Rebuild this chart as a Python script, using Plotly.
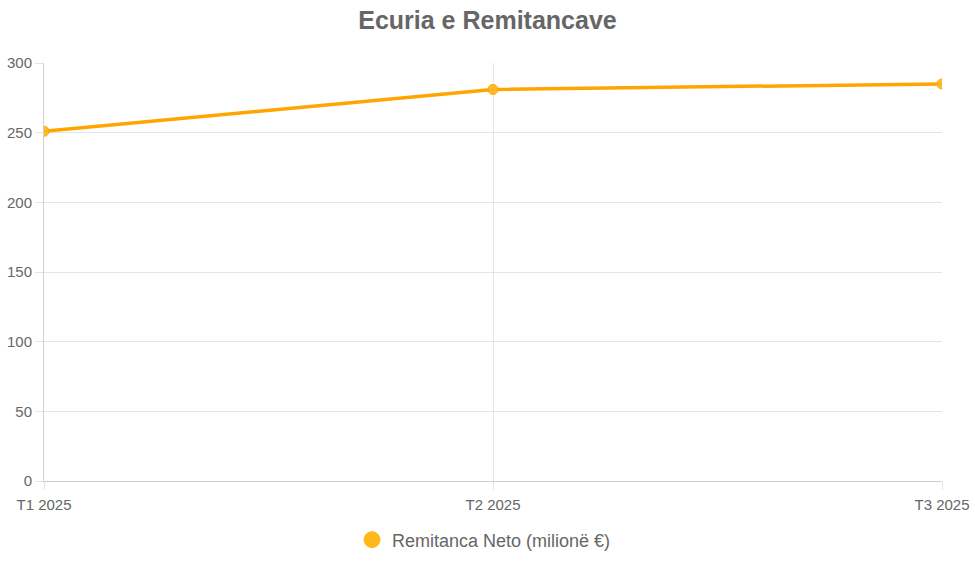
import plotly.graph_objects as go

# data
quarters = ["T1 2025", "T2 2025", "T3 2025"]
remittances = [251, 281, 285]
series_name = "Remitanca Neto (milionë €)"

line_color = "#FFA500"
marker_fill = "rgba(255,183,27,0.9)"
grid_color = "#E5E5E5"
text_color = "#666666"

fig = go.Figure()

fig.add_trace(go.Scatter(x=quarters, y=remittances, mode="lines+markers",
                         name=series_name, showlegend=False,
                         line=dict(color=line_color, width=3.5),
                         marker=dict(size=10, color=marker_fill, line=dict(color=line_color, width=1)),
                         hovertemplate="%{x}: %{y}<extra></extra>"))

# legend entry drawn as a plain dot, like the original
fig.add_trace(go.Scatter(x=[None], y=[None], mode="markers", name=series_name,
                         marker=dict(size=16, color="#FFB81C", line=dict(color="#FFB81C", width=1))))

fig.update_layout(
    width=975, height=571,
    margin=dict(l=44, r=33, t=63, b=90),
    paper_bgcolor="white", plot_bgcolor="white",
    font=dict(family="Liberation Sans, Arial, sans-serif", size=15, color=text_color),
    title=dict(text="<b>Ecuria e Remitancave</b>", x=0.5, xanchor="center",
               y=0.965, yanchor="middle", font=dict(size=25, color=text_color)),
    showlegend=True,
    legend=dict(orientation="h", x=0.49, xanchor="center", y=-0.141, yanchor="middle",
                font=dict(size=18, color=text_color)),
    xaxis=dict(type="category", range=[0, 2], showgrid=True, gridcolor=grid_color,
               ticks="outside", ticklen=8, tickcolor=grid_color, automargin=False,
               ticklabelstandoff=2,
               showline=True, linecolor="#D0D0D0", zeroline=False),
    yaxis=dict(range=[0, 300], dtick=50, showgrid=True, gridcolor=grid_color,
               ticks="outside", ticklen=8, tickcolor=grid_color, automargin=False,
               showline=True, linecolor="#D0D0D0", zeroline=False),
)

# drop the default page margin so the figure sits at the window's corner
fig.write_html("out.html", config={"displayModeBar": False},
               post_script="document.body.style.margin='0';document.body.style.overflow='hidden';")
